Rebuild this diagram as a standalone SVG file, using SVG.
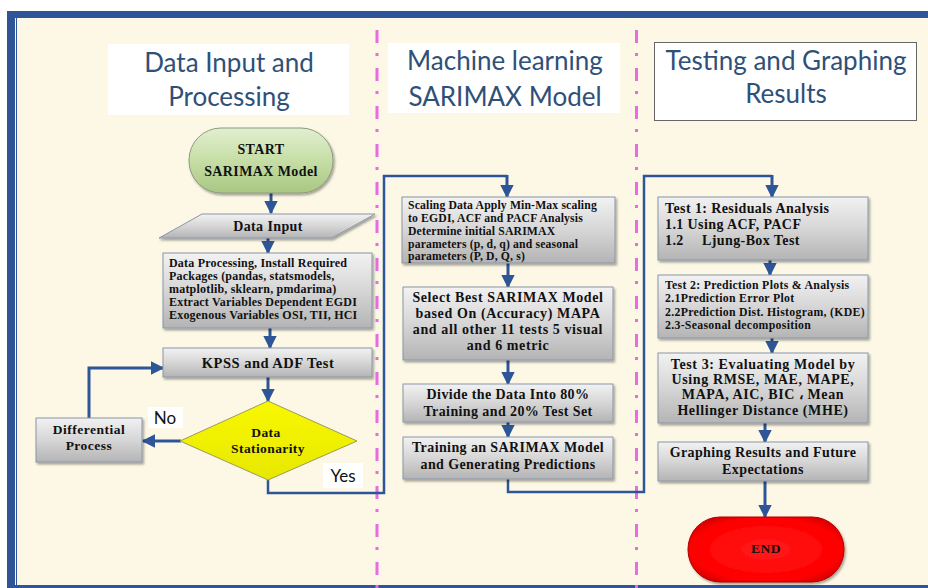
<svg xmlns="http://www.w3.org/2000/svg" width="928" height="588" viewBox="0 0 928 588">
<defs>
<linearGradient id="gGray" x1="0" y1="0" x2="0" y2="1">
<stop offset="0" stop-color="#f2f2f2"/>
<stop offset="0.5" stop-color="#d6d6d6"/>
<stop offset="1" stop-color="#b4b4b4"/>
</linearGradient>
<linearGradient id="gGreen" x1="0" y1="0" x2="0" y2="1">
<stop offset="0" stop-color="#e2efd0"/>
<stop offset="0.5" stop-color="#c6dea6"/>
<stop offset="1" stop-color="#a9c782"/>
</linearGradient>
<radialGradient id="gRed" cx="0.5" cy="0.5" r="0.6">
<stop offset="0" stop-color="#ff1a1a"/>
<stop offset="0.8" stop-color="#ff0000"/>
<stop offset="1" stop-color="#d00000"/>
</radialGradient>
<linearGradient id="gYellow" x1="0" y1="0" x2="0" y2="1">
<stop offset="0" stop-color="#f8f800"/>
<stop offset="1" stop-color="#e8e800"/>
</linearGradient>
<filter id="sh" x="-10%" y="-10%" width="130%" height="140%">
<feDropShadow dx="1.5" dy="2" stdDeviation="1.2" flood-color="#000" flood-opacity="0.35"/>
</filter>
<marker id="ah" viewBox="0 0 10 10" refX="9" refY="5" markerWidth="4.5" markerHeight="4.5" orient="auto" markerUnits="strokeWidth">
<path d="M0,0 L10,5 L0,10 z" fill="#2e5597"/>
</marker>
</defs>
<style>
.box{fill:url(#gGray);stroke:#8a96a8;stroke-width:1;filter:url(#sh)}
.t{font-family:"Liberation Serif","Times New Roman",serif;font-weight:bold;fill:#111}
.b{font-size:14px;letter-spacing:0.4px}
.title{font-family:Lato,"Open Sans","Liberation Sans",sans-serif;font-size:26px;fill:#2f5078;text-anchor:middle}
.lab{font-family:Lato,"Open Sans","Liberation Sans",sans-serif;font-size:17px;fill:#111;text-anchor:middle}
.c{fill:none;stroke:#2e5597;stroke-width:2.5}
.ca{fill:none;stroke:#2e5597;stroke-width:3;marker-end:url(#ah)}
.div{stroke:#ea6ae2;stroke-width:3;stroke-dasharray:13 10 3 12}
.mid{text-anchor:middle}
</style>
<rect x="0" y="0" width="928" height="588" fill="#ffffff"/>
<rect x="7" y="11" width="921" height="577" fill="#fdf8e5"/>
<rect x="7" y="11" width="921" height="7" fill="#2f5597"/>
<rect x="7" y="11" width="8" height="577" fill="#2f5597"/>
<line x1="16.5" y1="18" x2="16.5" y2="588" stroke="#2f5597" stroke-width="1"/>
<rect x="7" y="585" width="921" height="3" fill="#2f5597"/>
<line class="div" x1="377" y1="30" x2="377" y2="588"/>
<line class="div" x1="636.5" y1="30" x2="636.5" y2="588"/>

<g id="title1">
<rect x="108" y="44" width="241" height="71" fill="#ffffff"/>
<text class="title" x="229" y="72">Data Input and</text>
<text class="title" x="229" y="106">Processing</text>
</g>
<g id="title2">
<rect x="388" y="43" width="232" height="70" fill="#ffffff"/>
<text class="title" x="505" y="70">Machine learning</text>
<text class="title" x="505" y="106">SARIMAX Model</text>
</g>
<g id="title3">
<rect x="654.5" y="42.5" width="262" height="78" fill="#ffffff" stroke="#666" stroke-width="1"/>
<text class="title" x="786" y="70">Testing and Graphing</text>
<text class="title" x="786" y="103">Results</text>
</g>

<g id="connectors">
<line class="ca" x1="271" y1="193" x2="271" y2="213"/>
<line class="ca" x1="268" y1="238" x2="268" y2="253"/>
<line class="ca" x1="270" y1="328" x2="270" y2="348"/>
<line class="ca" x1="268" y1="377" x2="268" y2="401"/>
<line class="ca" x1="181" y1="441" x2="143" y2="441"/>
<polyline class="ca" points="89,418 89,368 163,368"/>
<polyline class="c" points="268,480 268,493 384,493 384,176 507,176"/>
<line class="ca" x1="507" y1="175" x2="507" y2="197"/>
<line class="ca" x1="508" y1="263" x2="508" y2="287"/>
<line class="ca" x1="508" y1="360" x2="508" y2="384"/>
<line class="ca" x1="508" y1="422" x2="508" y2="437"/>
<polyline class="c" points="508,479 508,492 644,492 644,176 772,176"/>
<line class="ca" x1="772" y1="175" x2="772" y2="197"/>
<line class="ca" x1="770" y1="260" x2="770" y2="275"/>
<line class="ca" x1="772" y1="338" x2="772" y2="353"/>
<line class="ca" x1="765" y1="423" x2="765" y2="442"/>
<line class="ca" x1="765" y1="481" x2="765" y2="517"/>
</g>

<g id="start">
<rect x="189" y="128" width="144" height="65" rx="32" ry="32" fill="url(#gGreen)" stroke="#8a9a80" stroke-width="1" filter="url(#sh)"/>
<text class="t mid b" x="261" y="154">START</text>
<text class="t mid b" x="261" y="176">SARIMAX Model</text>
</g>
<g id="datainput">
<polygon points="159,238 202,214 375,214 332,238" fill="url(#gGray)" stroke="#8a96a8" stroke-width="1" filter="url(#sh)"/>
<text class="t mid b" x="268" y="231">Data Input</text>
</g>
<g id="processing">
<rect class="box" x="163" y="253" width="209" height="75"/>
<text class="t" x="169" y="267" font-size="12" letter-spacing="0.2">Data Processing, Install Required</text>
<text class="t" x="169" y="280" font-size="12" letter-spacing="0.2">Packages (pandas, statsmodels,</text>
<text class="t" x="169" y="293" font-size="12" letter-spacing="0.2">matplotlib, sklearn, pmdarima)</text>
<text class="t" x="169" y="306" font-size="12" letter-spacing="0.2">Extract Variables Dependent EGDI</text>
<text class="t" x="169" y="319" font-size="12" letter-spacing="0.2">Exogenous Variables OSI, TII, HCI</text>
</g>
<g id="kpss">
<rect class="box" x="163" y="348" width="209" height="29"/>
<text class="t mid" x="268" y="368" font-size="14.5" letter-spacing="0.5">KPSS and ADF Test</text>
</g>
<g id="stationarity">
<polygon points="268,401 357,441 268,480 180,441" fill="url(#gYellow)" stroke="#9a9a60" stroke-width="1"/>
<text class="t mid" x="266" y="437" font-size="13.5" letter-spacing="0.4">Data</text>
<text class="t mid" x="268" y="453" font-size="13.5" letter-spacing="0.4">Stationarity</text>
</g>
<g id="differential">
<rect class="box" x="36" y="418" width="106" height="44"/>
<text class="t mid" x="89" y="434" font-size="13.5" letter-spacing="0.5">Differential</text>
<text class="t mid" x="89" y="450" font-size="13.5" letter-spacing="0.5">Process</text>
</g>
<g id="labelNo">
<rect x="148" y="407" width="35" height="21" fill="#ffffff"/>
<text class="lab" x="165" y="424">No</text>
</g>
<g id="labelYes">
<rect x="323" y="463" width="40" height="25" fill="#ffffff"/>
<text class="lab" x="343" y="482">Yes</text>
</g>

<g id="scaling">
<rect class="box" x="402" y="197" width="213" height="66"/>
<text class="t" x="408" y="209" font-size="11.7" letter-spacing="0.15">Scaling Data Apply Min-Max scaling</text>
<text class="t" x="408" y="222" font-size="11.7" letter-spacing="0.15">to EGDI, ACF and PACF Analysis</text>
<text class="t" x="408" y="235" font-size="11.7" letter-spacing="0.15">Determine initial SARIMAX</text>
<text class="t" x="408" y="248" font-size="11.7" letter-spacing="0.15">parameters (p, d, q) and seasonal</text>
<text class="t" x="408" y="260" font-size="11.7" letter-spacing="0.15">parameters (P, D, Q, s)</text>
</g>
<g id="select">
<rect class="box" x="403" y="287" width="210" height="73"/>
<text class="t mid" x="508" y="302" font-size="14" letter-spacing="0.6">Select Best SARIMAX Model</text>
<text class="t mid" x="508" y="318" font-size="14" letter-spacing="0.6">based On (Accuracy) MAPA</text>
<text class="t mid" x="508" y="334" font-size="14" letter-spacing="0.6">and all other 11 tests  5 visual</text>
<text class="t mid" x="508" y="350" font-size="14" letter-spacing="0.6">and 6 metric</text>
</g>
<g id="divide">
<rect class="box" x="403" y="384" width="210" height="38"/>
<text class="t mid b" x="508" y="399">Divide the Data Into 80%</text>
<text class="t mid b" x="508" y="416">Training and 20% Test Set</text>
</g>
<g id="training">
<rect class="box" x="403" y="437" width="210" height="42"/>
<text class="t mid b" x="508" y="452">Training an SARIMAX Model</text>
<text class="t mid b" x="508" y="469">and Generating Predictions</text>
</g>

<g id="test1">
<rect class="box" x="658" y="197" width="210" height="63"/>
<text class="t b" x="665" y="213">Test 1: Residuals Analysis</text>
<text class="t b" x="665" y="229">1.1 Using ACF, PACF</text>
<text class="t b" x="665" y="245">1.2</text>
<text class="t b" x="702" y="245">Ljung-Box Test</text>
</g>
<g id="test2">
<rect class="box" x="658" y="275" width="210" height="63"/>
<text class="t" x="665" y="289" font-size="11.8" letter-spacing="0.3">Test 2: Prediction Plots &amp; Analysis</text>
<text class="t" x="665" y="302" font-size="11.8" letter-spacing="0.3">2.1Prediction Error Plot</text>
<text class="t" x="665" y="316" font-size="11.8" letter-spacing="0.3">2.2Prediction Dist. Histogram, (KDE)</text>
<text class="t" x="665" y="329" font-size="11.8" letter-spacing="0.3">2.3-Seasonal decomposition</text>
</g>
<g id="test3">
<rect class="box" x="658" y="353" width="210" height="70"/>
<text class="t mid" x="763" y="369" font-size="14" letter-spacing="0.6">Test 3: Evaluating Model by</text>
<text class="t mid" x="763" y="384" font-size="14" letter-spacing="0.6">Using RMSE, MAE, MAPE,</text>
<text class="t mid" x="763" y="399" font-size="14" letter-spacing="0.6">MAPA, AIC, BIC ، Mean</text>
<text class="t mid" x="763" y="415" font-size="14" letter-spacing="0.6">Hellinger Distance (MHE)</text>
</g>
<g id="graphing">
<rect class="box" x="658" y="442" width="210" height="39"/>
<text class="t mid b" x="763" y="457">Graphing Results and Future</text>
<text class="t mid b" x="763" y="474">Expectations</text>
</g>
<g id="end">
<rect x="688" y="517" width="156" height="65" rx="32" ry="32" fill="url(#gRed)" stroke="#b00000" stroke-width="1" filter="url(#sh)"/>
<text class="t mid" x="766" y="553" font-size="13.5" letter-spacing="0.5">END</text>
</g>
</svg>
